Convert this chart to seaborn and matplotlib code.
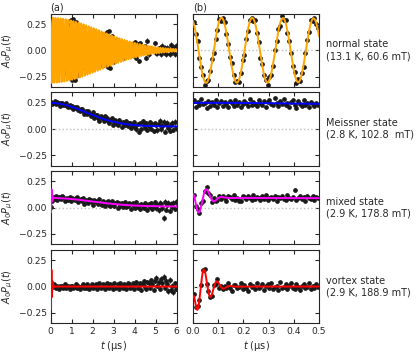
import numpy as np
import seaborn as sns
import matplotlib.pyplot as plt

sns.set_theme(style="ticks")
plt.rcParams["font.family"] = ["DejaVu Sans"]
plt.rcParams["mathtext.fontset"] = "dejavusans"

# states shown in the rows
state_labels = ["normal state\n(13.1 K, 60.6 mT)",
                "Meissner state\n(2.8 K, 102.8  mT)",
                "mixed state\n(2.9 K, 178.8 mT)",
                "vortex state\n(2.9 K, 188.9 mT)"]
fit_colors = ["#ffa500", "#0000ff", "#ff00ff", "#ff0000"]

# fit parameters
# slow (non oscillating) part: amplitude, gaussian time (us), baseline
slow_amp = [0.0, 0.225, 0.082, 0.0]
slow_tau = [1.0, 2.35, 2.7, 1.0]
slow_base = [0.0, 0.025, 0.010, 0.0]
# oscillating part: amplitude, frequency (MHz), gaussian damping (1/us), phase (rad)
osc_amp = [0.31, 0.0, 0.155, 0.22]
osc_freq = [8.21, 0.0, 16.0, 19.0]
osc_sigma = [0.43, 0.0, 21.0, 18.0]
osc_phase = [0.45, 0.0, 0.75, 1.0]
# very early transient
early_amp = [0.0, 0.0, -0.08, -0.22]
early_tau = 0.006

# data points = fit + residual (residuals in units of 0.01)
t_a = np.linspace(0.03, 5.97, 102)
t_b = np.linspace(0.004, 0.496, 70)

normal_a_res = [1, -2, 0, 2, -1, 1, -1, 2, 0, -2, 1, 1, -1, 2, -2, 0, 1, -1, 2, -1,
                0, 2, -2, 1, -1, 3, 0, -2, 2, -1, 1, -3, 2, 0, -1, 2, -2, 3, -1, 1,
                -2, 2, 0, -3, 1, 2, -1, 3, -2, 0, 2, -3, 1, -1, 3, -2, 2, 0, -3, 1,
                3, -4, 2, -1, -6, 1, 3, -2, 4, -3, 1, -5, 2, 3, -2, 4, -1, -3, 5, 0,
                -2, 4, -3, 2, 5, -1, -4, 3, 1, -3, 4, -2, 2, -4, 3, 1, -3, 4, -1, 2,
                -3, 3]
meissner_a_res = [1, -1, 0, 2, -1, 1, 0, -2, 1, 1, -1, 0, 2, -1, -1, 1, 0, 1, -2, 1,
                  0, 2, -1, -1, 1, 2, 0, -2, 1, -1, 2, 1, -2, 0, 3, -2, 1, 2, -1, -3,
                  2, 0, 1, -2, 3, 2, -1, -2, 1, 3, -3, 0, 2, -1, -2, 3, 1, -3, 2, 0,
                  -1, 3, -2, 1, 2, -3, 0, 3, -2, -4, 1, -6, 2, -3, 4, 1, -2, 3, -4, 0,
                  4, -3, 2, -5, 3, 1, -4, 2, 5, -3, 0, 4, -5, 2, 3, -2, -4, 1, 3, -3,
                  4, -2]
mixed_a_res = [2, 0, 1, -1, 2, -2, 1, 0, -1, 2, 1, -2, 0, 1, -1, 2, -2, 1, 0, -1,
               1, 2, -2, 0, 1, -1, 2, -3, 1, 0, -2, 2, 1, -1, -3, 2, 0, 1, -2, 3,
               -1, -2, 2, 0, -3, 1, 2, -1, -2, 3, 0, -2, 1, 2, -3, 1, -1, 2, -2, 0,
               3, -2, -1, 2, 1, -3, 2, 0, -2, 3, -1, 1, -3, 2, 0, -2, 3, 1, -4, 2,
               -1, 3, -3, 0, 4, -2, 1, -4, 3, 2, -2, -11, 4, -3, 1, 3, -4, 2, -1, 3,
               -2, 4]
vortex_a_res = [1, -1, 2, 0, -1, 1, -2, 1, 0, 1, -1, 2, -1, 0, 1, -2, 1, 1, -1, 0,
                2, -1, 1, -2, 0, 1, 2, -1, -1, 2, 0, -2, 1, 2, -1, 0, 2, -2, 1, 3,
                -1, 0, 2, 1, -2, 3, 0, -1, 2, 1, -2, 3, -1, 0, 2, -2, 3, 1, -1, 2,
                1, -2, 3, 2, -1, 0, 3, -2, 2, 4, -1, 1, 3, -3, 2, 5, 0, -2, 4, 3,
                -1, 6, 2, -3, 5, 8, 1, 4, -2, 7, 3, 9, -1, 5, 2, -4, 6, -3, 1, -5,
                3, -2]

normal_b_res = [2, -1, 3, -2, 0, 1, -3, 2, -1, 1, 3, -2, 0, -1, 2, -3, 1, 2, -1, 0,
                -2, 3, 1, -1, 2, -2, 0, 3, -3, 1, -1, 2, 0, -2, 3, -1, 1, -3, 2, 0,
                1, -2, 3, -1, -2, 2, 0, 1, -3, 2, -1, 3, -2, 1, 0, -1, 2, -3, 3, -1,
                1, -2, 0, 2, -1, 3, -2, 1, -1, 2]
meissner_b_res = [3, -4, 1, -2, 4, -1, 0, -5, 2, -3, 1, -2, 3, -4, 0, 2, -3, 1, -1, -4,
                  2, 0, -3, 3, -2, 1, -4, -1, 2, 0, -3, 4, -2, 1, -1, -3, 3, 0, -2, 2,
                  -4, 1, 3, -1, -2, 5, 0, -3, 2, -1, 4, -2, 0, -3, 1, 3, -1, -4, 2, 0,
                  -2, 3, -1, 1, -3, 2, 0, -2, 1, -1]
mixed_b_res = [1, -2, 2, -1, 3, -3, 0, 2, -1, 1, -2, 3, 0, -1, 2, -2, 1, 0, -3, 2,
               1, -1, 3, -2, 0, -3, -3, 2, 1, -1, 2, 0, -2, 3, -1, 1, 0, -2, 2, -1,
               3, -2, 0, 1, -1, 2, -3, 1, 0, 2, -1, -2, 3, 0, -1, 1, 8, -2, 0, 2,
               -1, 1, -3, 2, 0, -1, 2, -2, 1, 0]
vortex_b_res = [2, -1, 3, 0, -2, 1, 2, -3, 1, 0, -2, 3, -1, 2, -4, 1, 0, 2, -1, 3,
                -2, -5, 1, 2, -1, 0, 3, -2, 1, -1, -4, 2, 0, 1, -2, 3, -1, 0, 2, -3,
                1, 2, -1, 3, -2, 0, 1, -3, 4, -1, 0, 2, -2, 1, 3, -1, -2, 2, 0, -3,
                1, 2, -1, 0, 3, -2, 1, -1, 2, 0]

res_a = [normal_a_res, meissner_a_res, mixed_a_res, vortex_a_res]
res_b = [normal_b_res, meissner_b_res, mixed_b_res, vortex_b_res]

# error bars: one level per microsecond in (a), constant in (b)
err_a_levels = [0.006, 0.008, 0.011, 0.015, 0.020, 0.027]
err_b = 0.010


def fit(i, t):
    slow = slow_amp[i] * np.exp(-(t / slow_tau[i]) ** 2) + slow_base[i]
    osc = (osc_amp[i] * np.exp(-(osc_sigma[i] * t) ** 2 / 2)
           * np.cos(2 * np.pi * osc_freq[i] * t + osc_phase[i]))
    early = early_amp[i] * np.exp(-t / early_tau)
    return slow + osc + early


W, H = 416, 353
fig = plt.figure(figsize=(W / 100, H / 100), dpi=100)
row_tops = [13.5, 92.3, 170.8, 249.8]
row_h = 73.5
col_left = [50.5, 193]
col_w = 126
fs = 7
tfs = 6.6

err_a = np.repeat(err_a_levels, 17)

for i in range(4):
    for j in range(2):
        ax = fig.add_axes([col_left[j] / W, 1 - (row_tops[i] + row_h) / H,
                           col_w / W, row_h / H])
        if j == 0:
            t, res, err, tmax = t_a, res_a[i], err_a, 6
            tf = np.linspace(0, 6, 6001)
        else:
            t, res, err, tmax = t_b, res_b[i], err_b, 0.5
            tf = np.linspace(0, 0.5, 1001)
        y = fit(i, t) + 0.01 * np.array(res)
        ax.axhline(0, color="0.75", ls=":", lw=1, zorder=1)
        ax.errorbar(t, y, yerr=err, fmt="o", ms=2.4, color="k",
                    elinewidth=0.7, capsize=0, zorder=2)
        sns.lineplot(x=tf, y=fit(i, tf), ax=ax, color=fit_colors[i], lw=1.4,
                     estimator=None, sort=False, zorder=3)
        ax.set_xlim(0, tmax)
        ax.set_ylim(-0.35, 0.35)
        ax.set_yticks([-0.25, 0, 0.25])
        if j == 0:
            ax.set_xticks(range(7))
            ax.set_ylabel(r"$A_0P_\mu(t)$", fontsize=fs)
            ax.yaxis.set_label_coords(-0.28, 0.5)
        else:
            ax.set_xticks([0, 0.1, 0.2, 0.3, 0.4, 0.5])
            ax.set_yticklabels([])
            ax.set_ylabel("")
            ax.text(1.055, 0.5, state_labels[i], transform=ax.transAxes,
                    ha="left", va="center", fontsize=fs)
        if i < 3:
            ax.set_xticklabels([])
            ax.set_xlabel("")
        else:
            ax.set_xlabel(r"$t$ (µs)", fontsize=fs, labelpad=2)
        if i == 0:
            ax.text(0, 1.02, "(a)" if j == 0 else "(b)", transform=ax.transAxes,
                    ha="left", va="bottom", fontsize=fs)
        ax.tick_params(direction="in", top=True, right=True, length=3,
                       width=0.8, labelsize=tfs, pad=2.5)
        for s in ax.spines.values():
            s.set_linewidth(0.8)

fig.savefig("out.png", dpi=100)
